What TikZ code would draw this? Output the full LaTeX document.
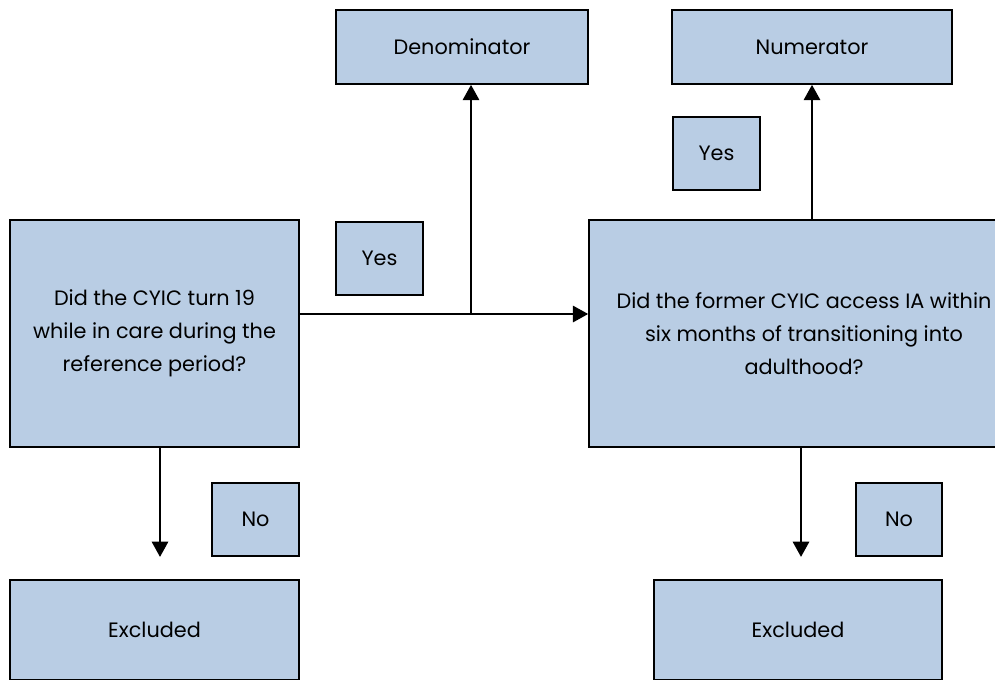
\documentclass[tikz,border=0pt]{standalone}
\usepackage{fontspec}
\setmainfont{Poppins}
\usetikzlibrary{arrows.meta}
\definecolor{boxblue}{RGB}{185,205,228}
\tikzset{
  cell/.style 2 args={draw=black,line width=1.1pt,fill=boxblue,inner sep=0pt,align=center,
    minimum width=#1*.75pt,minimum height=#2*.75pt,font=\fontsize{15.6}{24.75}\selectfont},
  flow/.style={line width=2.2pt,-{Triangle[length=11.5pt,width=12pt]}}
}
\begin{document}
\begin{tikzpicture}[x=.75pt,y=-.75pt]
\useasboundingbox(0,0)rectangle(995,679);
\clip(0,0)rectangle(995,679);
% question boxes
\node[cell={289}{227}](q1)at(154.5,333.5){Did the CYIC turn 19\\while in care during the\\reference period?};
\node[cell={430}{227}](q2)at(804,333.5){Did the former CYIC access IA within\\six months of transitioning into\\adulthood?};
% outcomes
\node[cell={252}{74}](den)at(462,47){Denominator};
\node[cell={280}{74}](num)at(812,47){Numerator};
\node[cell={289}{100}](ex1)at(154.5,630){Excluded};
\node[cell={288}{100}](ex2)at(798,630){Excluded};
% labels
\node[cell={87}{73}](yes1)at(379.5,258.5){Yes};
\node[cell={87}{73}](yes2)at(716.5,153.5){Yes};
\node[cell={87}{73}](no1)at(255.5,519.5){No};
\node[cell={86}{73}](no2)at(899,519.5){No};
% arrows
\coordinate(j)at(471,314);
\coordinate(e1)at(160,557);
\coordinate(e2)at(801,557);
\draw[flow](q1.east|-j)--(q2.west|-j);
\draw[flow](j)--(j|-den.south);
\draw[flow](num.south|-q2.north)--(num.south);
\draw[flow](q1.south-|e1)--(e1);
\draw[flow](q2.south-|e2)--(e2);
\end{tikzpicture}
\end{document}
